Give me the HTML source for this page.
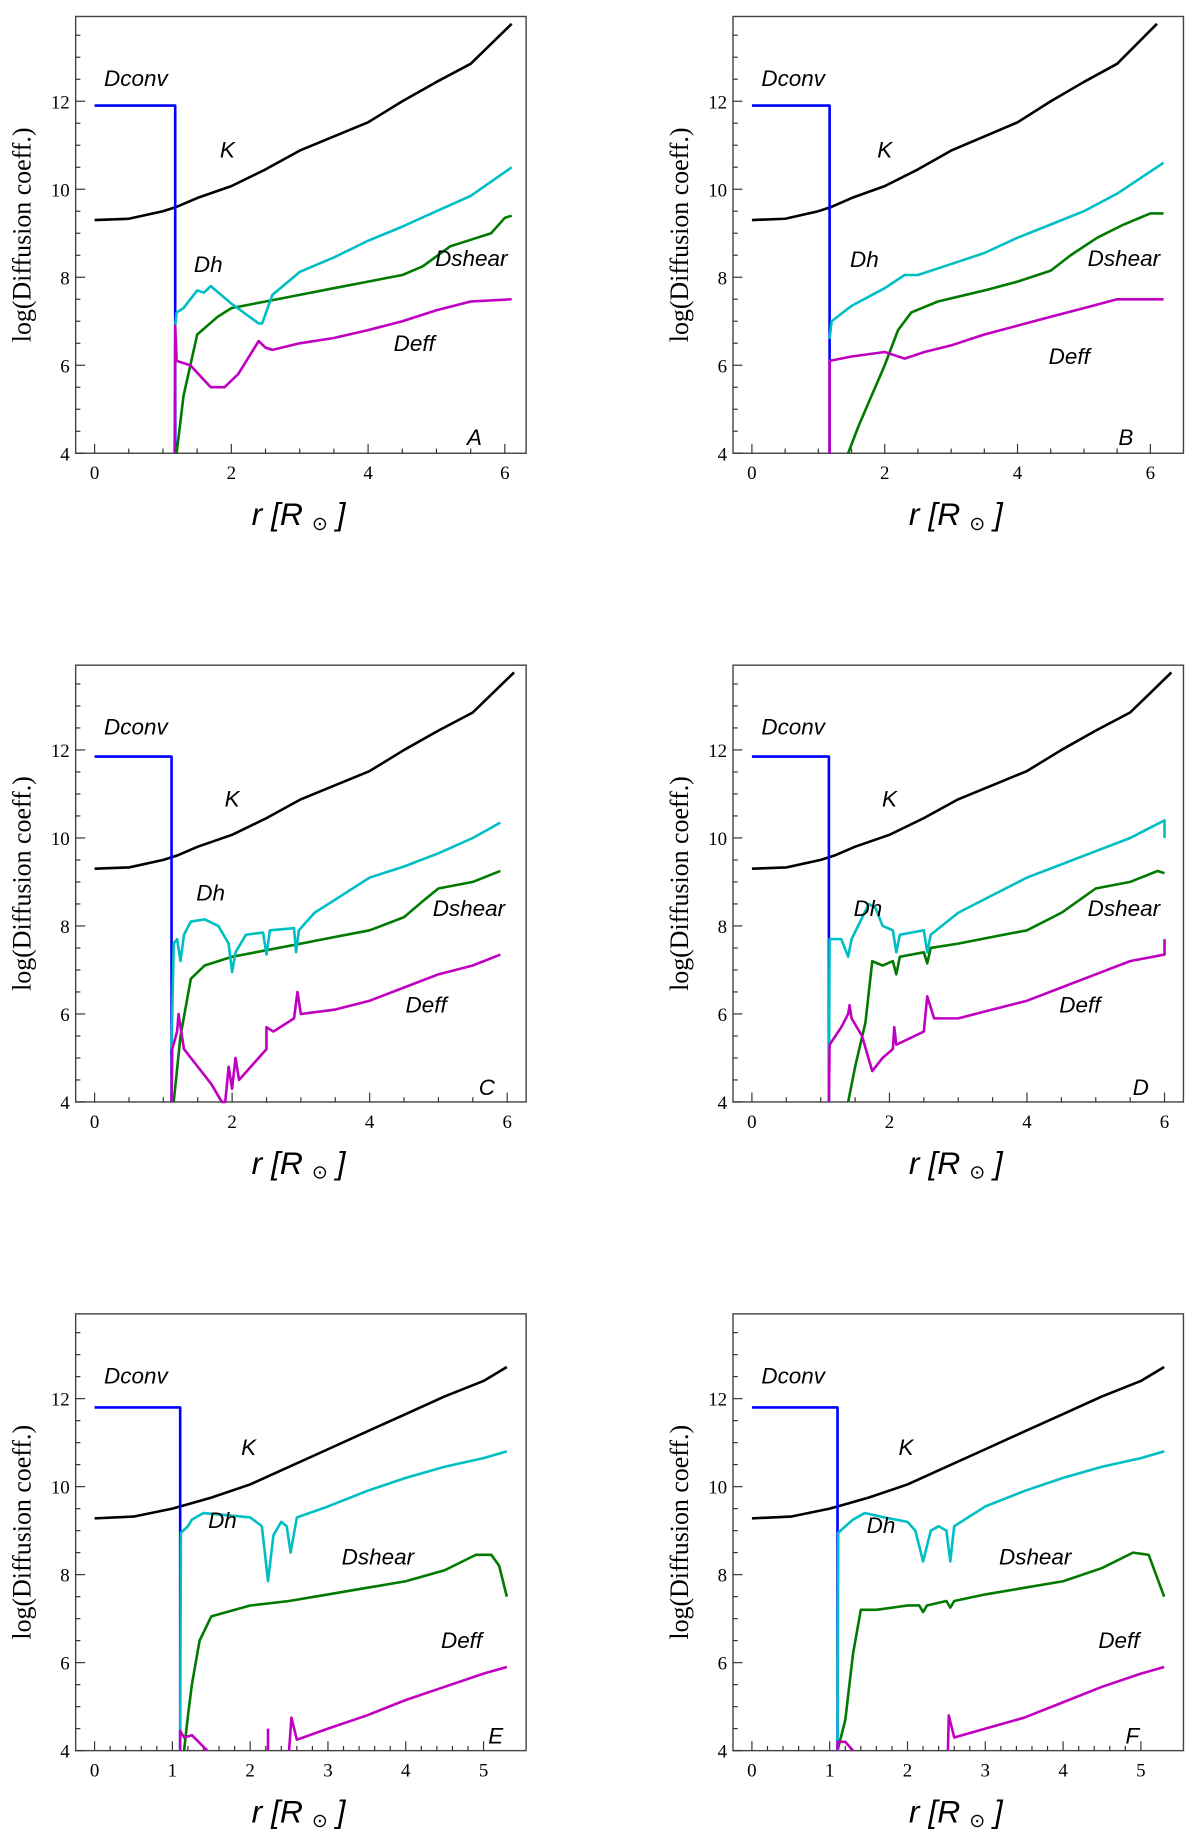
<!DOCTYPE html>
<html><head><meta charset="utf-8"><style>
html,body{margin:0;padding:0;background:#fff;}
svg{display:block;}
.tick{font-family:"Liberation Serif",serif;font-size:16px;fill:#000;}
.ytitle{font-family:"Liberation Serif",serif;font-size:22px;fill:#000;}
.xtitle{font-family:"Liberation Sans",sans-serif;font-style:italic;font-size:27px;fill:#000;}
.ann{font-family:"Liberation Sans",sans-serif;font-style:italic;font-size:19px;fill:#000;}
</style></head><body>
<svg id="fig" width="1200" height="1846" viewBox="0 0 1015 1568" preserveAspectRatio="none" xmlns="http://www.w3.org/2000/svg"></svg>
<script>
// ---- data (r in R_sun, log D) ----
const kA_r=[0,0.5,1,1.2,1.5,2,2.5,3,3.5,4,4.5,5,5.5,6.1];
const kA_v=[9.3,9.33,9.5,9.6,9.8,10.07,10.45,10.88,11.2,11.52,12.0,12.44,12.85,13.76];
const kE_r=[0,0.5,1,1.2,1.5,2,2.5,3,3.5,4,4.5,5,5.3];
const kE_v=[9.28,9.32,9.5,9.6,9.75,10.05,10.45,10.85,11.25,11.65,12.05,12.4,12.72];

const dhA=[[1.18,6.9],[1.2,7.2],[1.3,7.3],[1.5,7.7],[1.6,7.65],[1.7,7.8],[2.0,7.4],[2.4,6.95],[2.45,6.95],[2.6,7.6],[3,8.12],[3.5,8.45],[4,8.83],[4.5,9.15],[5,9.5],[5.5,9.85],[6.1,10.5]];
const dsA=[[1.2,4],[1.3,5.3],[1.5,6.7],[1.8,7.1],[2,7.3],[2.5,7.45],[3,7.6],[3.5,7.75],[4,7.9],[4.5,8.05],[4.8,8.25],[5.2,8.7],[5.5,8.85],[5.8,9.0],[6.0,9.35],[6.1,9.4]];
const deA=[[1.17,4],[1.18,6.9],[1.2,6.1],[1.4,6.0],[1.55,5.75],[1.7,5.5],[1.9,5.5],[2.1,5.8],[2.4,6.55],[2.5,6.4],[2.6,6.35],[3,6.5],[3.5,6.62],[4,6.8],[4.5,7.0],[5,7.25],[5.5,7.45],[6.1,7.5]];

const dhB=[[1.17,6.6],[1.2,7.0],[1.5,7.35],[2,7.75],[2.3,8.05],[2.5,8.05],[3,8.3],[3.5,8.55],[4,8.9],[4.5,9.2],[5,9.5],[5.5,9.9],[6.2,10.6]];
const dsB=[[1.45,4],[1.6,4.6],[1.8,5.3],[2.0,6.0],[2.2,6.8],[2.4,7.2],[2.8,7.45],[3.5,7.7],[4,7.9],[4.5,8.15],[4.8,8.5],[5.2,8.9],[5.6,9.2],[6,9.45],[6.2,9.45]];
const deB=[[1.17,4],[1.17,6.1],[1.5,6.2],[2,6.3],[2.3,6.15],[2.6,6.3],[3,6.45],[3.5,6.7],[4,6.9],[4.5,7.1],[5,7.3],[5.5,7.5],[6.2,7.5]];

const dhC=[[1.12,5.2],[1.15,7.6],[1.2,7.7],[1.25,7.2],[1.3,7.8],[1.4,8.1],[1.6,8.15],[1.8,8.0],[1.95,7.6],[2.0,6.95],[2.05,7.4],[2.2,7.8],[2.45,7.85],[2.5,7.35],[2.55,7.9],[2.9,7.95],[2.93,7.4],[2.97,7.9],[3.2,8.3],[3.5,8.6],[4,9.1],[4.5,9.35],[5,9.65],[5.5,10.0],[5.9,10.35]];
const dsC=[[1.15,4],[1.25,5.5],[1.4,6.8],[1.6,7.1],[2,7.3],[2.5,7.45],[3,7.6],[3.5,7.75],[4,7.9],[4.5,8.2],[4.8,8.6],[5.0,8.85],[5.5,9.0],[5.9,9.25]];
const deC=[[1.12,4],[1.13,5.2],[1.2,5.6],[1.22,6.0],[1.3,5.2],[1.5,4.8],[1.7,4.4],[1.85,4.0],[1.9,4.0],[1.95,4.8],[2.0,4.3],[2.05,5.0],[2.1,4.5],[2.5,5.2],[2.5,5.7],[2.6,5.6],[2.9,5.9],[2.95,6.5],[3.0,6.0],[3.5,6.1],[4,6.3],[4.5,6.6],[5,6.9],[5.5,7.1],[5.9,7.35]];

const dhD=[[1.12,4],[1.13,7.7],[1.3,7.7],[1.4,7.3],[1.45,7.7],[1.7,8.5],[1.8,8.4],[1.9,8.0],[2.05,7.9],[2.1,7.4],[2.15,7.8],[2.5,7.9],[2.55,7.4],[2.6,7.8],[3,8.3],[3.5,8.7],[4,9.1],[4.5,9.4],[5,9.7],[5.5,10.0],[6,10.4],[6,10.0]];
const dsD=[[1.4,4],[1.5,4.8],[1.65,5.8],[1.75,7.2],[1.9,7.1],[2.05,7.2],[2.1,6.9],[2.15,7.3],[2.5,7.4],[2.55,7.15],[2.6,7.5],[3,7.6],[3.5,7.75],[4,7.9],[4.5,8.3],[5,8.85],[5.5,9.0],[5.9,9.25],[6,9.2]];
const deD=[[1.12,4],[1.13,5.3],[1.3,5.7],[1.4,6.0],[1.42,6.2],[1.45,5.9],[1.6,5.5],[1.75,4.7],[1.9,5.0],[2.05,5.2],[2.07,5.7],[2.1,5.3],[2.5,5.6],[2.55,6.4],[2.65,5.9],[3,5.9],[3.5,6.1],[4,6.3],[4.5,6.6],[5,6.9],[5.5,7.2],[6,7.35],[6,7.7]];

const dhE=[[1.1,4],[1.11,8.95],[1.2,9.1],[1.25,9.25],[1.4,9.4],[1.7,9.35],[2.0,9.3],[2.15,9.1],[2.23,7.85],[2.3,8.9],[2.4,9.2],[2.47,9.1],[2.52,8.5],[2.6,9.3],[3,9.55],[3.5,9.9],[4,10.2],[4.5,10.45],[5,10.65],[5.3,10.8]];
const dsE=[[1.15,4],[1.2,4.8],[1.25,5.5],[1.35,6.5],[1.5,7.05],[2,7.3],[2.5,7.4],[3,7.55],[3.5,7.7],[4,7.85],[4.5,8.1],[4.9,8.45],[5.1,8.45],[5.2,8.2],[5.3,7.5]];
const deE=[[1.1,4],[1.1,4.45],[1.15,4.3],[1.25,4.35],[1.45,4.0],null,[2.23,4.0],[2.23,4.5],null,[2.5,4.0],[2.53,4.75],[2.6,4.25],[3,4.5],[3.5,4.8],[4,5.15],[4.5,5.45],[5,5.75],[5.3,5.9]];

const dhF=[[1.1,4],[1.11,8.95],[1.2,9.1],[1.3,9.25],[1.45,9.4],[1.7,9.3],[2.0,9.2],[2.1,9.0],[2.2,8.3],[2.3,9.0],[2.4,9.1],[2.5,9.0],[2.55,8.3],[2.6,9.1],[3,9.55],[3.5,9.9],[4,10.2],[4.5,10.45],[5,10.65],[5.3,10.8]];
const dsF=[[1.1,4],[1.2,4.7],[1.3,6.2],[1.4,7.2],[1.6,7.2],[2,7.3],[2.15,7.3],[2.2,7.15],[2.25,7.3],[2.5,7.4],[2.55,7.25],[2.6,7.4],[3,7.55],[3.5,7.7],[4,7.85],[4.5,8.15],[4.9,8.5],[5.1,8.45],[5.3,7.5]];
const deF=[[1.1,4],[1.1,4.2],[1.2,4.2],[1.3,4.0],null,[2.52,4.0],[2.53,4.8],[2.6,4.3],[3,4.5],[3.5,4.75],[4,5.1],[4.5,5.45],[5,5.75],[5.3,5.9]];

const yTicks=[4,6,8,10,12];
const dconvLevel=[11.9,11.9,11.85,11.85,11.8,11.8];
const coreR=[1.18,1.17,1.12,1.12,1.1,1.1];
const panelLetters=["A","B","C","D","E","F"];

const NS="http://www.w3.org/2000/svg";
const svg=document.getElementById('fig');
function mk(tag,attrs,parent){const e=document.createElementNS(NS,tag);for(const k in attrs)e.setAttribute(k,attrs[k]);(parent||svg).appendChild(e);return e;}

const panels=[
 {bx:64,by:14,x0:80,xu:(427-80)/6,xmax:6.1,xMajor:2,xMinor:0.5,xEnd:6,kr:kA_r,kv:kA_v,dh:dhA,ds:dsA,de:deA,lab:{dc:[88,73],k:[186,134],dh:[164,231],ds:[368,226],de:[333,298],L:[395,378]}},
 {bx:620,by:14,x0:636,xu:(973-636)/6,xmax:6.2,xMajor:2,xMinor:0.5,xEnd:6,kr:kA_r,kv:kA_v,dh:dhB,ds:dsB,de:deB,lab:{dc:[644,73],k:[742,134],dh:[719,227],ds:[920,226],de:[887,309],L:[946,378]}},
 {bx:64,by:565,x0:80,xu:(429-80)/6,xmax:5.9,xMajor:2,xMinor:0.5,xEnd:6,kr:kA_r,kv:kA_v,dh:dhC,ds:dsC,de:deC,lab:{dc:[88,624],k:[190,685],dh:[166,765],ds:[366,778],de:[343,860],L:[405,930]}},
 {bx:620,by:565,x0:636,xu:(985-636)/6,xmax:6.0,xMajor:2,xMinor:0.5,xEnd:6,kr:kA_r,kv:kA_v,dh:dhD,ds:dsD,de:deD,lab:{dc:[644,624],k:[746,685],dh:[722,778],ds:[920,778],de:[896,860],L:[958,930]}},
 {bx:64,by:1116,x0:80,xu:(409-80)/5,xmax:5.3,xMajor:1,xMinor:0.2,xEnd:5,kr:kE_r,kv:kE_v,dh:dhE,ds:dsE,de:deE,lab:{dc:[88,1175],k:[204,1236],dh:[176,1298],ds:[289,1329],de:[373,1400],L:[413,1481]}},
 {bx:620,by:1116,x0:636,xu:(965-636)/5,xmax:5.3,xMajor:1,xMinor:0.2,xEnd:5,kr:kE_r,kv:kE_v,dh:dhF,ds:dsF,de:deF,lab:{dc:[644,1175],k:[760,1236],dh:[733,1302],ds:[845,1329],de:[929,1400],L:[952,1481]}}
];
const BW=381,BH=371,YU=(385-86)/8;

panels.forEach((p,i)=>{
 const g=mk('g',{});
 
 
 const X=r=>p.x0+r*p.xu;
 const Y=v=>p.by+BH-(v-4)*YU;
 const frame=mk('rect',{x:p.bx,y:p.by,width:BW,height:BH,fill:'none',stroke:'#444','stroke-width':1.2},g);
 
 
 for(let v=4;v<=13.8;v+=0.5){
  const major=yTicks.includes(v);
  mk('line',{x1:p.bx,x2:p.bx+(major?8:4),y1:Y(v),y2:Y(v),stroke:'#333','stroke-width':1},g);
 }
 yTicks.forEach(v=>{
  const t=mk('text',{x:p.bx-5,y:Y(v)+6,'text-anchor':'end',class:'tick'},g);
  t.textContent=v;
  
  
 });
 const nMin=Math.round(p.xEnd/p.xMinor);
 for(let k=0;k<=nMin;k++){
  const r=k*p.xMinor;
  const isMaj=Math.abs(r/p.xMajor-Math.round(r/p.xMajor))<1e-6;
  mk('line',{x1:X(r),x2:X(r),y1:p.by+BH,y2:p.by+BH-(isMaj?8:4),stroke:'#333','stroke-width':1},g);
  if(isMaj){
   const t=mk('text',{x:X(r),y:p.by+BH+22,'text-anchor':'middle',class:'tick'},g);
   t.textContent=Math.round(r);
   
   
  }
 }
 const yt=mk('text',{x:0,y:0,'text-anchor':'middle',class:'ytitle',transform:`translate(${p.bx-38},${p.by+BH/2}) rotate(-90)`},g);
 yt.textContent='log(Diffusion coeff.)';
 
 
 const xt=mk('text',{x:p.bx+BW/2-2,y:p.by+BH+61,'text-anchor':'middle',class:'xtitle'},g);
 xt.innerHTML='r [R <tspan font-size="16" dy="4" font-style="normal">&#8857;</tspan><tspan dy="-4"> ]</tspan>';
 
 
 function poly(pts,color,name){
  let d='',pen=false;
  pts.forEach(q=>{ if(!q){pen=false;return;} d+=(pen?'L':'M')+X(q[0]).toFixed(1)+','+Y(q[1]).toFixed(1); pen=true; });
  const e=mk('path',{d:d,fill:'none',stroke:color,'stroke-width':2.2,'stroke-linejoin':'round'},g);
  
  
 }
 poly(p.kr.map((r,j)=>[r,p.kv[j]]),'#000','k-curve');
 poly([[0,dconvLevel[i]],[coreR[i],dconvLevel[i]],[coreR[i],4]],'#0000ff','dconv-curve');
 poly(p.ds,'#007a00','dshear-curve');
 poly(p.dh,'#00bfc4','dh-curve');
 poly(p.de,'#c000c0','deff-curve');
 const labs=[['dc','Dconv','dconv-label'],['k','K','k-label'],['dh','Dh','dh-label'],['ds','Dshear','dshear-label'],['de','Deff','deff-label'],['L',panelLetters[i],'panel-letter']];
 labs.forEach(l=>{
  const t=mk('text',{x:p.lab[l[0]][0],y:p.lab[l[0]][1],class:'ann'},g);
  t.textContent=l[1];
  
  
 });
});
</script>
</body></html>
